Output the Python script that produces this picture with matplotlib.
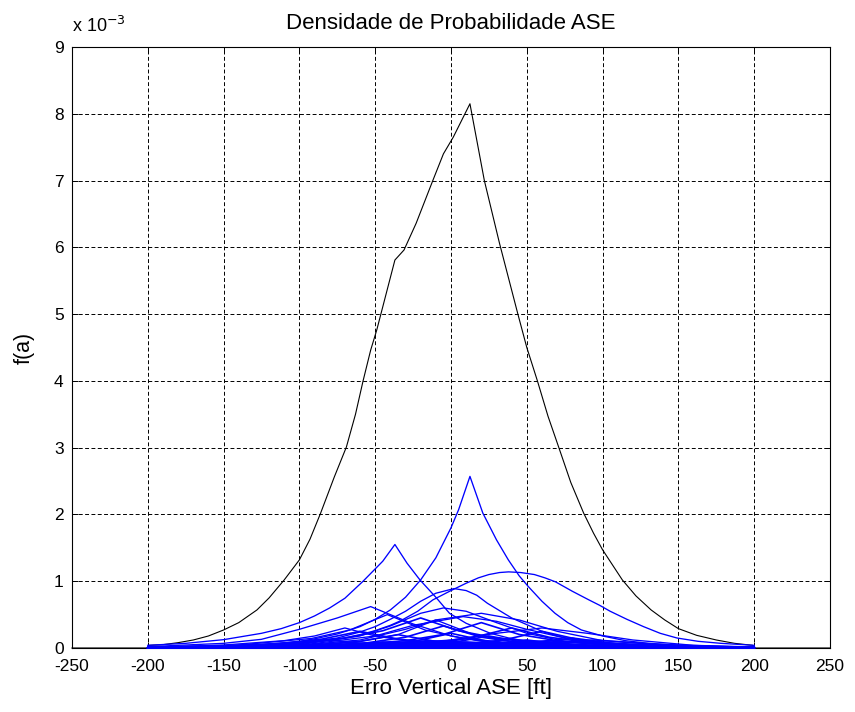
import matplotlib
matplotlib.use("Agg")
import matplotlib.pyplot as plt

# values in units of 1e-3, x in ft
total_x = [-250, -200, -199, -190, -180, -170, -160, -150, -140, -128, -120, -110, -100,
           -93, -86, -77, -69, -63, -58, -53, -49, -37, -31, -23, -12, -5, 1.5, 12.5,
           22, 32, 44, 50, 57, 64, 71, 79, 87.5, 94, 100, 113, 122, 132, 141, 150, 162,
           175, 187, 199, 200, 250]
total_y = [0.0, 0.0, 0.04, 0.05, 0.08, 0.12, 0.18, 0.27, 0.38, 0.57, 0.75, 1.02, 1.32,
           1.63, 2.02, 2.56, 3.01, 3.5, 4.0, 4.46, 4.76, 5.81, 5.96, 6.36, 7.0, 7.4, 7.65, 8.15,
           7.0, 6.06, 5.01, 4.5, 4.0, 3.47, 3.01, 2.48, 2.02, 1.72, 1.47, 1.02, 0.78, 0.57, 0.42,
           0.29, 0.19, 0.12, 0.07, 0.04, 0.0, 0.0]

# larger components
comp_a_x = [-200, -150, -125, -100, -90, -75, -60, -50, -40, -30, -20, -10, 0, 5, 12.5,
            21, 30, 37.8, 45, 51, 60, 68.6, 77, 86, 100, 115, 130, 160, 200]
comp_a_y = [0.005, 0.025, 0.05, 0.10, 0.137, 0.21, 0.32, 0.43, 0.57, 0.76, 1.02, 1.35, 1.80,
            2.07, 2.57, 2.02, 1.62, 1.32, 1.08, 0.92, 0.70, 0.52, 0.38, 0.27, 0.18, 0.11, 0.07,
            0.03, 0.01]

comp_b_x = [-200, -175, -150, -125, -112, -100, -90, -80, -70, -58, -45, -37, -29, -20.5,
            -10, -1, 10, 26, 38, 50, 75, 100, 150, 200]
comp_b_y = [0.04, 0.07, 0.125, 0.22, 0.29, 0.38, 0.48, 0.60, 0.745, 1.0, 1.3, 1.55, 1.27,
            1.02, 0.76, 0.52, 0.37, 0.22, 0.15, 0.10, 0.045, 0.02, 0.005, 0.001]

comp_c_x = [-200, -150, -125, -100, -75, -60, -50, -40, -33, -22, -12, 0, 10, 18, 25, 32,
            38, 46, 55, 62, 69, 80, 91, 98, 105, 116, 127, 138, 149, 163, 178, 200]
comp_c_y = [0.004, 0.017, 0.033, 0.065, 0.13, 0.2, 0.26, 0.34, 0.41, 0.55, 0.72, 0.86, 0.97,
            1.05, 1.1, 1.13, 1.14, 1.13, 1.1, 1.05, 0.99, 0.85, 0.72, 0.64, 0.55, 0.43, 0.32,
            0.22, 0.15, 0.1, 0.07, 0.04]

comp_d_x = [-200, -150, -125, -100, -75, -60, -50, -40, -30, -20, -10, 2, 10, 17, 24, 32,
            40, 50, 60, 70, 80, 100, 125, 150, 200]
comp_d_y = [0.005, 0.02, 0.04, 0.07, 0.15, 0.24, 0.32, 0.43, 0.55, 0.7, 0.82, 0.89, 0.86,
            0.79, 0.67, 0.56, 0.45, 0.35, 0.25, 0.18, 0.13, 0.07, 0.035, 0.015, 0.003]

comp_e_x = [-200, -150, -125, -100, -75, -53, -40, -25, 0, 25, 50, 100, 200]
comp_e_y = [0.02, 0.07, 0.13, 0.28, 0.45, 0.62, 0.5, 0.36, 0.18, 0.09, 0.045, 0.01, 0.0]

comp_f_x = [-200, -142, -92, -67, -42, -17, 8, 58, 200]
comp_f_y = [0.01, 0.041, 0.143, 0.268, 0.5, 0.268, 0.143, 0.041, 0.0]

comp_g_x = [-200, -150, -100, -60, -40, -20, -5, 10, 30, 50, 75, 100, 150, 200]
comp_g_y = [0.003, 0.015, 0.05, 0.18, 0.33, 0.52, 0.6, 0.55, 0.38, 0.22, 0.1, 0.045, 0.01, 0.002]

comp_h_x = [-200, -150, -100, -50, -25, 8, 30, 50, 75, 100, 150, 200]
comp_h_y = [0.002, 0.01, 0.04, 0.18, 0.34, 0.47, 0.4, 0.28, 0.15, 0.07, 0.015, 0.003]

comp_i_x = [-200, -150, -100, -60, -30, -10, 20, 45, 70, 100, 150, 200]
comp_i_y = [0.003, 0.01, 0.04, 0.12, 0.28, 0.42, 0.52, 0.42, 0.25, 0.11, 0.025, 0.005]

comp_j_x = [-200, -110, -60, -35, -10, 15, 40, 90, 200]
comp_j_y = [0.002, 0.02, 0.1, 0.2, 0.42, 0.2, 0.1, 0.02, 0.0]

comp_k_x = [-200, -100, -50, 0, 30, 60, 90, 120, 160, 200]
comp_k_y = [0.0, 0.01, 0.04, 0.12, 0.22, 0.3, 0.22, 0.12, 0.04, 0.015]

comp_l_x = [-200, -150, -110, -90, -70, -50, -30, 20, 200]
comp_l_y = [0.01, 0.045, 0.11, 0.18, 0.3, 0.18, 0.11, 0.03, 0.0]

# smaller components (bottom band)
small_x = [
    [-200, -120, -70, -45, -20, 5, 30, 80, 200],
    [-200, -80, -30, -5, 20, 45, 70, 120, 200],
    [-200, -105, -55, -30, -5, 20, 45, 95, 200],
    [-200, -60, -10, 15, 40, 65, 90, 140, 200],
    [-200, -160, -110, -85, -60, -35, -10, 40, 200],
    [-200, -40, 10, 35, 60, 85, 110, 160, 200],
    [-200, -100, -50, -25, 0, 25, 50, 100, 200],
    [-200, -135, -85, -60, -35, -10, 15, 65, 200],
    [-200, -75, -25, 0, 25, 50, 75, 125, 200],
    [-200, -20, 30, 55, 80, 105, 130, 180, 200],
    [-200, -180, -130, -105, -80, -55, -30, 20, 200],
    [-200, -90, -40, -15, 10, 35, 60, 110, 200],
    [-200, -50, 0, 25, 50, 75, 100, 150, 200],
    [-200, -115, -65, -40, -15, 10, 35, 85, 200],
    [-200, 0, 50, 75, 100, 125, 150, 200],
    [-200, -145, -95, -70, -45, -20, 5, 55, 200],
    [-200, -65, -15, 10, 35, 60, 85, 135, 200],
    [-200, 20, 70, 95, 120, 145, 170, 200],
    [-200, -150, -125, -100, -75, -50, 0, 200],
    [-200, -100, -50, -25, 0, 25, 50, 100, 200],
    [-200, -120, -70, -20, 30, 80, 200],
    [-200, -40, 10, 60, 110, 160, 200],
    [-200, -150, -100, -60, -20, 30, 200],
    [-200, -80, -30, 20, 70, 120, 200],
    [-200, 30, 70, 110, 150, 200],
    [-200, -150, -110, -70, -30, 200],
    [-200, -100, -40, 10, 60, 120, 200],
    [-200, -60, 0, 45, 90, 150, 200],
    [-200, -140, -80, -35, 10, 70, 200],
    [-200, -20, 40, 85, 130, 180, 200],
    [-200, -110, -50, -5, 40, 100, 200],
    [-200, -30, 25, 70, 115, 170, 200],
    [-200, -10, 50, 95, 140, 200],
    [-200, -50, 15, 65, 110, 160, 200],
    [-200, -130, -60, -15, 35, 90, 200],
]
small_y = [
    [0.008, 0.049, 0.148, 0.258, 0.45, 0.258, 0.148, 0.049, 0.004],
    [0.002, 0.031, 0.109, 0.203, 0.38, 0.203, 0.109, 0.031, 0.004],
    [0.001, 0.019, 0.079, 0.162, 0.33, 0.162, 0.079, 0.019, 0.001],
    [0.001, 0.025, 0.086, 0.16, 0.30, 0.16, 0.086, 0.025, 0.007],
    [0.008, 0.021, 0.072, 0.134, 0.25, 0.134, 0.072, 0.021, 0.0],
    [0.0, 0.014, 0.06, 0.122, 0.25, 0.122, 0.06, 0.014, 0.008],
    [0.0, 0.008, 0.042, 0.096, 0.22, 0.096, 0.042, 0.008, 0.0],
    [0.002, 0.011, 0.048, 0.098, 0.2, 0.098, 0.048, 0.011, 0.0],
    [0.0, 0.006, 0.034, 0.078, 0.18, 0.078, 0.034, 0.006, 0.0],
    [0.0, 0.009, 0.036, 0.074, 0.15, 0.074, 0.036, 0.009, 0.005],
    [0.004, 0.007, 0.029, 0.059, 0.12, 0.059, 0.029, 0.007, 0.0],
    [0.0, 0.003, 0.019, 0.052, 0.14, 0.052, 0.019, 0.003, 0.0],
    [0.0, 0.004, 0.023, 0.052, 0.12, 0.052, 0.023, 0.004, 0.001],
    [0.0, 0.002, 0.014, 0.037, 0.10, 0.037, 0.014, 0.002, 0.0],
    [0.0, 0.003, 0.015, 0.035, 0.08, 0.035, 0.015, 0.003],
    [0.001, 0.003, 0.017, 0.039, 0.09, 0.039, 0.017, 0.003, 0.0],
    [0.0, 0.001, 0.011, 0.029, 0.08, 0.029, 0.011, 0.001, 0.0],
    [0.0, 0.002, 0.009, 0.022, 0.05, 0.022, 0.009, 0.003],
    [0.002, 0.011, 0.026, 0.06, 0.026, 0.011, 0.002, 0.0],
    [0.002, 0.011, 0.026, 0.04, 0.06, 0.04, 0.026, 0.011, 0.002],
    [0.001, 0.007, 0.018, 0.05, 0.018, 0.007, 0.001],
    [0.0, 0.004, 0.013, 0.045, 0.013, 0.004, 0.002],
    [0.002, 0.008, 0.02, 0.04, 0.02, 0.008, 0.0],
    [0.001, 0.01, 0.03, 0.07, 0.03, 0.01, 0.001],
    [0.0, 0.005, 0.012, 0.03, 0.012, 0.002],
    [0.002, 0.012, 0.03, 0.012, 0.005, 0.0],
    [0.001, 0.01, 0.04, 0.09, 0.04, 0.01, 0.0],
    [0.0, 0.01, 0.04, 0.085, 0.04, 0.01, 0.002],
    [0.002, 0.012, 0.04, 0.075, 0.035, 0.008, 0.0],
    [0.0, 0.008, 0.035, 0.08, 0.035, 0.01, 0.004],
    [0.001, 0.012, 0.045, 0.1, 0.045, 0.01, 0.0],
    [0.0, 0.01, 0.04, 0.095, 0.04, 0.01, 0.005],
    [0.0, 0.015, 0.055, 0.12, 0.05, 0.008],
    [0.0, 0.012, 0.05, 0.11, 0.05, 0.012, 0.004],
    [0.001, 0.012, 0.05, 0.11, 0.05, 0.01, 0.0],
]

x_ticks = [-250, -200, -150, -100, -50, 0, 50, 100, 150, 200, 250]
y_ticks = [0, 1, 2, 3, 4, 5, 6, 7, 8, 9]

plt.rcParams['font.family'] = ['Liberation Sans', 'DejaVu Sans']

fig = plt.figure(figsize=(8.55, 7.12), dpi=100)
ax = fig.add_axes([72 / 855, 1 - 648 / 712, 758 / 855, 601 / 712])

ax.plot(total_x, total_y, color='black', linewidth=0.8, zorder=3, clip_on=False)

major = [(comp_a_x, comp_a_y), (comp_b_x, comp_b_y), (comp_c_x, comp_c_y),
         (comp_d_x, comp_d_y), (comp_e_x, comp_e_y), (comp_f_x, comp_f_y),
         (comp_g_x, comp_g_y), (comp_h_x, comp_h_y), (comp_i_x, comp_i_y),
         (comp_j_x, comp_j_y), (comp_k_x, comp_k_y), (comp_l_x, comp_l_y)]
for xs, ys in major:
    ax.plot(xs, ys, color='#0000ff', linewidth=0.95, zorder=4, clip_on=False)
# thin components pile up into the solid band along the bottom
for xs, ys in zip(small_x, small_y):
    ax.plot(xs, ys, color='#0000ff', linewidth=1.2, zorder=4, clip_on=False)

ax.set_xlim(-250, 250)
ax.set_ylim(0, 9)
ax.set_xticks(x_ticks)
ax.set_yticks(y_ticks)
ax.set_xticklabels([str(t) for t in x_ticks])
ax.set_yticklabels([str(t) for t in y_ticks])

ax.grid(True, color='black', linestyle=(0, (4, 2.5)), linewidth=0.7)
ax.set_axisbelow(True)
ax.tick_params(direction='in', length=4, width=0.7, top=True, right=True,
               labelsize=12.5, colors='black')
ax.tick_params(axis='x', pad=8)
ax.tick_params(axis='y', pad=6)
for sp in ax.spines.values():
    sp.set_linewidth(0.8)

ax.text(0, 1.018, r'x 10$^{-3}$', transform=ax.transAxes, fontsize=13,
        ha='left', va='bottom')
ax.set_title('Densidade de Probabilidade ASE', fontsize=16, pad=13)
ax.set_xlabel('Erro Vertical ASE [ft]', fontsize=16, labelpad=3)
ax.set_ylabel('f(a)', fontsize=15.5, labelpad=14)

fig.savefig('out.png', dpi=100, facecolor='white')
